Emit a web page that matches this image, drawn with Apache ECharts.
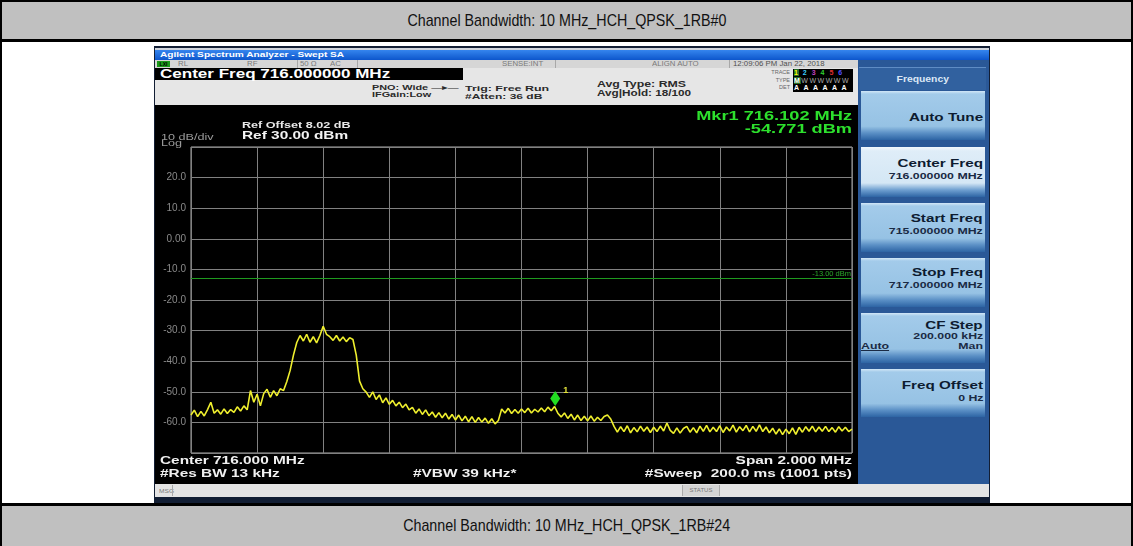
<!DOCTYPE html>
<html>
<head>
<meta charset="utf-8">
<title>Channel Bandwidth: 10 MHz_HCH_QPSK_1RB#0</title>
<script src="https://cdn.jsdelivr.net/npm/echarts@6/dist/echarts.min.js"></script>
<style>
    body { margin: 0; width: 1133px; height: 546px; position: relative; overflow: hidden; background: #fff; font-family: "Liberation Sans", Arial, sans-serif; }
    .abs { position: absolute; }
    .row { left: 2px; width: 1129px; background: #c0c0c0; text-align: center; color: #111; font-size: 17px; }
    .row span { display: inline-block; transform: scaleX(0.84); }
    .sx { display: inline-block; transform-origin: 0 50%; white-space: nowrap; }
    .st { position: absolute; top: 0; font-size: 6.5px; line-height: 8px; color: #7a7a7a; white-space: nowrap; transform: scaleX(1.2); transform-origin: 0 50%; }
    .sep { position: absolute; top: 0; width: 1px; height: 8px; background: #a8a8a8; }
    .info { position: absolute; font-weight: bold; color: #2a2a2a; font-size: 7.5px; line-height: 8px; white-space: nowrap; transform: scaleX(1.45); transform-origin: 0 50%; }
    .key { position: absolute; left: 861px; width: 124px; color: #0d1b30; font-weight: bold;
        background: linear-gradient(#d2e7f7 0px, #a3cbea 3px, #96c2e4 72%, #5a8fc5 86%, #2d64a4 100%); }
    .key.sel { background: linear-gradient(#f2f8fd 0px, #dfedf8 4px, #d4e7f5 72%, #6e9fd0 86%, #2d64a4 100%); }
    .key div { position: absolute; right: 2px; white-space: nowrap; transform: scaleX(1.45); transform-origin: 100% 50%; }
    .key div.l { left: 0; right: auto; transform-origin: 0 50%; }
    .k1 { font-size: 10.5px; line-height: 12px; }
    .k2 { font-size: 8.5px; line-height: 10px; color: #1a2a44; }
</style>
</head>
<body>

<!-- table frame -->
<div class="abs" style="left:0;top:0;width:1133px;height:546px;box-sizing:border-box;border-left:2px solid #000;border-right:2px solid #000;border-top:2px solid #000"></div>
<div class="abs row" style="top:2px;height:37px;line-height:37px"><span>Channel Bandwidth: 10 MHz_HCH_QPSK_1RB#0</span></div>
<div class="abs" style="left:0;top:39px;width:1133px;height:3px;background:#000"></div>
<div class="abs" style="left:0;top:503px;width:1133px;height:3px;background:#000"></div>
<div class="abs row" style="top:506px;height:40px;line-height:40px"><span>Channel Bandwidth: 10 MHz_HCH_QPSK_1RB#24</span></div>

<!-- analyzer screenshot chrome -->
<div class="abs" style="left:154px;top:46px;width:836px;height:457px;background:#121e34"></div>
<div class="abs" style="left:155px;top:48px;width:834px;height:2px;background:#cfd3da"></div>
<div class="abs" style="left:155px;top:50px;width:834px;height:10px;background:linear-gradient(#3585ee,#0d56cc)">
    <span class="sx" style="position:absolute;left:5px;top:0;font-size:7.5px;line-height:10px;font-weight:bold;color:#fff;transform:scaleX(1.35)">Agilent Spectrum Analyzer - Swept SA</span>
</div>
<div class="abs" style="left:155px;top:60px;width:703px;height:8px;background:#d6d6d6">
    <span class="abs" style="left:2px;top:1px;width:13px;height:6px;background:#1a9a1a;color:#000;font-size:5px;line-height:6px;font-weight:bold;text-align:center">LXI</span>
    <span class="st" style="left:23px">RL</span>
    <span class="st" style="left:92px">RF</span>
    <span class="sep" style="left:142px"></span>
    <span class="st" style="left:145px">50 Ω</span>
    <span class="st" style="left:175px">AC</span>
    <span class="sep" style="left:202px"></span>
    <span class="st" style="left:347px">SENSE:INT</span>
    <span class="sep" style="left:400px"></span>
    <span class="st" style="left:497px">ALIGN AUTO</span>
    <span class="sep" style="left:574px"></span>
    <span class="st" style="left:578px;color:#505050">12:09:06 PM Jan 22, 2018</span>
</div>
<div class="abs" style="left:155px;top:68px;width:703px;height:37px;background:#e6e6e6"></div>
<div class="abs" style="left:155px;top:68px;width:308px;height:12px;background:#000"></div>
<div class="info" style="left:160px;top:68px;font-size:12px;line-height:12px;color:#fff;transform:scaleX(1.42)">Center Freq 716.000000 MHz</div>
<div class="info" style="left:372px;top:84px">PNO: Wide <span style="font-weight:normal">&#8212;&#9656;&#8212;</span></div>
<div class="info" style="left:372px;top:91px">IFGain:Low</div>
<div class="info" style="left:465px;top:85px;font-size:8px;transform:scaleX(1.55)">Trig: Free Run</div>
<div class="info" style="left:465px;top:93px;font-size:8px;transform:scaleX(1.5)">#Atten: 36 dB</div>
<div class="info" style="left:597px;top:80px;font-size:8.5px">Avg Type: RMS</div>
<div class="info" style="left:597px;top:89px;font-size:8.5px;transform:scaleX(1.38)">Avg|Hold: 18/100</div>
<div class="abs" style="left:755px;top:69px;width:35px;text-align:right;font-size:5.5px;line-height:7.5px;color:#666">TRACE<br>TYPE<br>DET</div>
<div class="abs" style="left:793px;top:69px;width:60px;height:23px;background:#000;font-size:7px;line-height:7.5px;font-weight:bold;white-space:nowrap;letter-spacing:1.5px;padding-left:1px;box-sizing:border-box">
    <span style="color:#ff0;background:#256b25">1</span><span style="color:#3bd0ff"> 2</span><span style="color:#c040c0"> 3</span><span style="color:#30d030"> 4</span><span style="color:#e03030"> 5</span><span style="color:#5050ff"> 6</span><br>
    <span style="color:#fff;background:#256b25">M</span><span style="color:#aaa;font-weight:normal">WWWWWW</span><br>
    <span style="color:#fff">A A A A A A</span>
</div>

<!-- softkeys -->
<div class="abs" style="left:858px;top:60px;width:131px;height:424px;background:#2a5897"></div>
<div class="abs" style="left:859px;top:67px;width:127px;height:22px;background:#31619f;border-top:1px solid #5f8cc4;text-align:center">
    <span class="sx" style="color:#dce8f6;font-weight:bold;font-size:9px;line-height:22px;transform:scaleX(1.15);transform-origin:50% 50%">Frequency</span>
</div>
<div class="key" style="top:91px;height:49px"><div class="k1" style="top:20px">Auto Tune</div></div>
<div class="key sel" style="top:147px;height:50px"><div class="k1" style="top:10px">Center Freq</div><div class="k2" style="top:24px">716.000000 MHz</div></div>
<div class="key" style="top:203px;height:49px"><div class="k1" style="top:9px">Start Freq</div><div class="k2" style="top:23px">715.000000 MHz</div></div>
<div class="key" style="top:258px;height:49px"><div class="k1" style="top:8px">Stop Freq</div><div class="k2" style="top:22px">717.000000 MHz</div></div>
<div class="key" style="top:313px;height:50px"><div class="k1" style="top:6px">CF Step</div><div class="k2" style="top:18px">200.000 kHz</div><div class="k2" style="top:28px">Man</div><div class="k2 l" style="top:28px;text-decoration:underline">Auto</div></div>
<div class="key" style="top:369px;height:48px"><div class="k1" style="top:10px">Freq Offset</div><div class="k2" style="top:24px">0 Hz</div></div>

<!-- message bar -->
<div class="abs" style="left:155px;top:484px;width:834px;height:13px;background:#e4e4e4">
    <span class="st" style="left:4px;top:3px;font-size:5.5px">MSG</span>
    <span class="sep" style="left:17px;top:1px;height:11px"></span>
    <span class="abs" style="left:527px;top:1px;width:36px;height:11px;background:#d4d4d4;border-left:1px solid #aaa;border-right:1px solid #aaa;text-align:center;font-size:6px;line-height:11px;color:#777">STATUS</span>
</div>

<!-- display -->
<div id="screen" class="abs" style="left:155px;top:105px;width:703px;height:379px"></div>

<script>
// sweep: 715.000 - 717.000 MHz, trace levels in dBm every 10 kHz
const FREQ_START = 715.0;
const FREQ_STOP = 717.0;
const FREQ_STEP = 0.01;
const REF_LEVEL = 30;
const BOTTOM_LEVEL = -70;
const DB_PER_DIV = 10;

const traceLevels = [
    -57.6, -56.0, -58.1, -56.4, -57.9, -55.8, -53.4, -57.0, -55.9, -57.3,
    -55.6, -57.1, -55.8, -56.7, -54.9, -56.3, -54.6, -55.9, -49.6, -53.4,
    -50.8, -54.6, -50.6, -49.2, -51.8, -49.6, -51.3, -49.0, -49.6, -46.6,
    -43.0, -38.0, -33.9, -31.6, -33.4, -31.2, -33.8, -32.0, -34.0, -31.6,
    -28.6, -31.2, -32.0, -33.2, -31.6, -33.4, -32.1, -33.6, -32.3, -32.9,
    -38.0, -46.5, -49.0, -50.1, -51.8, -50.0, -52.5, -51.0, -53.6, -52.0,
    -54.1, -52.8, -54.6, -53.4, -55.2, -54.0, -55.9, -55.1, -57.0, -55.6,
    -57.4, -55.9, -57.8, -56.6, -58.3, -56.8, -58.5, -57.0, -58.9, -57.4,
    -59.2, -57.6, -59.5, -58.0, -59.8, -58.1, -60.0, -58.4, -59.9, -58.6,
    -60.3, -58.8, -60.5, -59.4, -55.6, -56.9, -55.4, -57.1, -55.8, -57.0,
    -55.6, -56.8, -55.4, -56.9, -55.7, -56.6, -55.3, -56.5, -55.0, -56.2,
    -54.8, -57.0, -58.2, -56.9, -58.7, -57.3, -59.2, -57.6, -59.4, -58.0,
    -59.5, -57.9, -59.6, -58.3, -59.4, -58.1, -57.6, -58.9, -61.3, -63.2,
    -61.4, -63.0, -61.1, -63.4, -61.7, -63.1, -61.2, -62.9, -61.5, -63.3,
    -61.6, -63.0, -61.2, -62.8, -60.2, -62.6, -63.6, -61.8, -63.5, -62.0,
    -61.3, -63.2, -61.7, -63.4, -61.2, -62.9, -61.0, -63.1, -61.6, -63.0,
    -61.1, -63.3, -61.5, -62.8, -60.9, -63.2, -61.4, -62.7, -61.0, -63.1,
    -61.3, -62.9, -60.8, -63.0, -61.5, -63.4, -61.9, -63.8, -62.1, -64.0,
    -62.2, -63.7, -61.8, -63.9, -61.6, -63.2, -61.4, -62.9, -61.2, -63.1,
    -61.5, -62.9, -61.3, -63.0, -61.7, -63.2, -61.4, -62.8, -61.6, -63.0,
    -62.2
];

const markerFreq = 716.102;
const markerLevel = -54.771;
const limitLevel = -13;

const FONT = '"Liberation Sans", Arial, sans-serif';
const STRETCH = 1.4; // the analyzer font is much wider than Liberation Sans

function txt(x, y, text, font, fill, align) {
    return {
        type: 'text',
        silent: true,
        x: x, y: y,
        scaleX: STRETCH,
        style: {
            x: 0, y: 0, text: text,
            font: font + ' ' + FONT,
            fill: fill,
            align: align || 'left', textAlign: align || 'left',
            verticalAlign: 'middle', textVerticalAlign: 'middle'
        }
    };
}

function yLabel(v) {
    if (v === REF_LEVEL || v === BOTTOM_LEVEL) return '';
    return v === 0 ? '0.00' : v.toFixed(1);
}

function init() {
    const chart = echarts.init(document.getElementById('screen'));
    const traceData = traceLevels.map((v, i) => [+(FREQ_START + i * FREQ_STEP).toFixed(2), v]);

    chart.setOption({
        backgroundColor: '#000',
        animation: false,
        grid: {left: 36, top: 42, width: 661, height: 306, show: true, borderColor: '#ababab', borderWidth: 1},
        xAxis: {
            type: 'value', min: FREQ_START, max: FREQ_STOP, interval: 0.2,
            axisLine: {show: false}, axisTick: {show: false}, axisLabel: {show: false},
            splitLine: {lineStyle: {color: '#818181', width: 1}}
        },
        yAxis: {
            type: 'value', min: BOTTOM_LEVEL, max: REF_LEVEL, interval: DB_PER_DIV,
            axisLine: {show: false}, axisTick: {show: false},
            axisLabel: {color: '#8a8a8a', fontSize: 10, margin: 5, fontFamily: FONT, formatter: yLabel},
            splitLine: {lineStyle: {color: '#818181', width: 1}}
        },
        series: [{
            type: 'line',
            data: traceData,
            showSymbol: false,
            silent: true,
            lineStyle: {color: '#efef2e', width: 1.6},
            markLine: {
                silent: true, symbol: 'none',
                lineStyle: {color: '#1f9a1f', width: 1, type: 'solid'},
                label: {position: 'insideEndTop', formatter: '-13.00 dBm', color: '#2aa82a', fontSize: 7.5, distance: 1},
                data: [{yAxis: limitLevel}]
            },
            markPoint: {
                silent: true,
                symbol: 'diamond', symbolSize: [10, 15], symbolOffset: [0, -8],
                itemStyle: {color: '#22dd22'},
                label: {show: true, formatter: '1', position: [13, -5], color: '#e2e23a', fontSize: 9, fontWeight: 'bold'},
                data: [{coord: [markerFreq, markerLevel]}]
            }
        }],
        graphic: [
            txt(697, 11, 'Mkr1 716.102 MHz', 'bold 13px', '#2de02d', 'right'),
            txt(697, 24, '-54.771 dBm', 'bold 13px', '#2de02d', 'right'),
            txt(87, 21, 'Ref Offset 8.02 dB', 'bold 9px', '#e8e8e8'),
            txt(87, 31, 'Ref 30.00 dBm', 'bold 11px', '#f4f4f4'),
            txt(6, 33, '10 dB/div', '9px', '#9a9a9a'),
            txt(6, 39, 'Log', '9px', '#9a9a9a'),
            txt(5, 356, 'Center 716.000 MHz', 'bold 11px', '#f0f0f0'),
            txt(5, 369, '#Res BW 13 kHz', 'bold 11px', '#f0f0f0'),
            txt(258, 369, '#VBW 39 kHz*', 'bold 11px', '#f0f0f0'),
            txt(697, 356, 'Span 2.000 MHz', 'bold 11px', '#f0f0f0', 'right'),
            txt(697, 369, '#Sweep  200.0 ms (1001 pts)', 'bold 11px', '#f0f0f0', 'right')
        ]
    });
}

document.addEventListener('DOMContentLoaded', init);
</script>
</body>
</html>
